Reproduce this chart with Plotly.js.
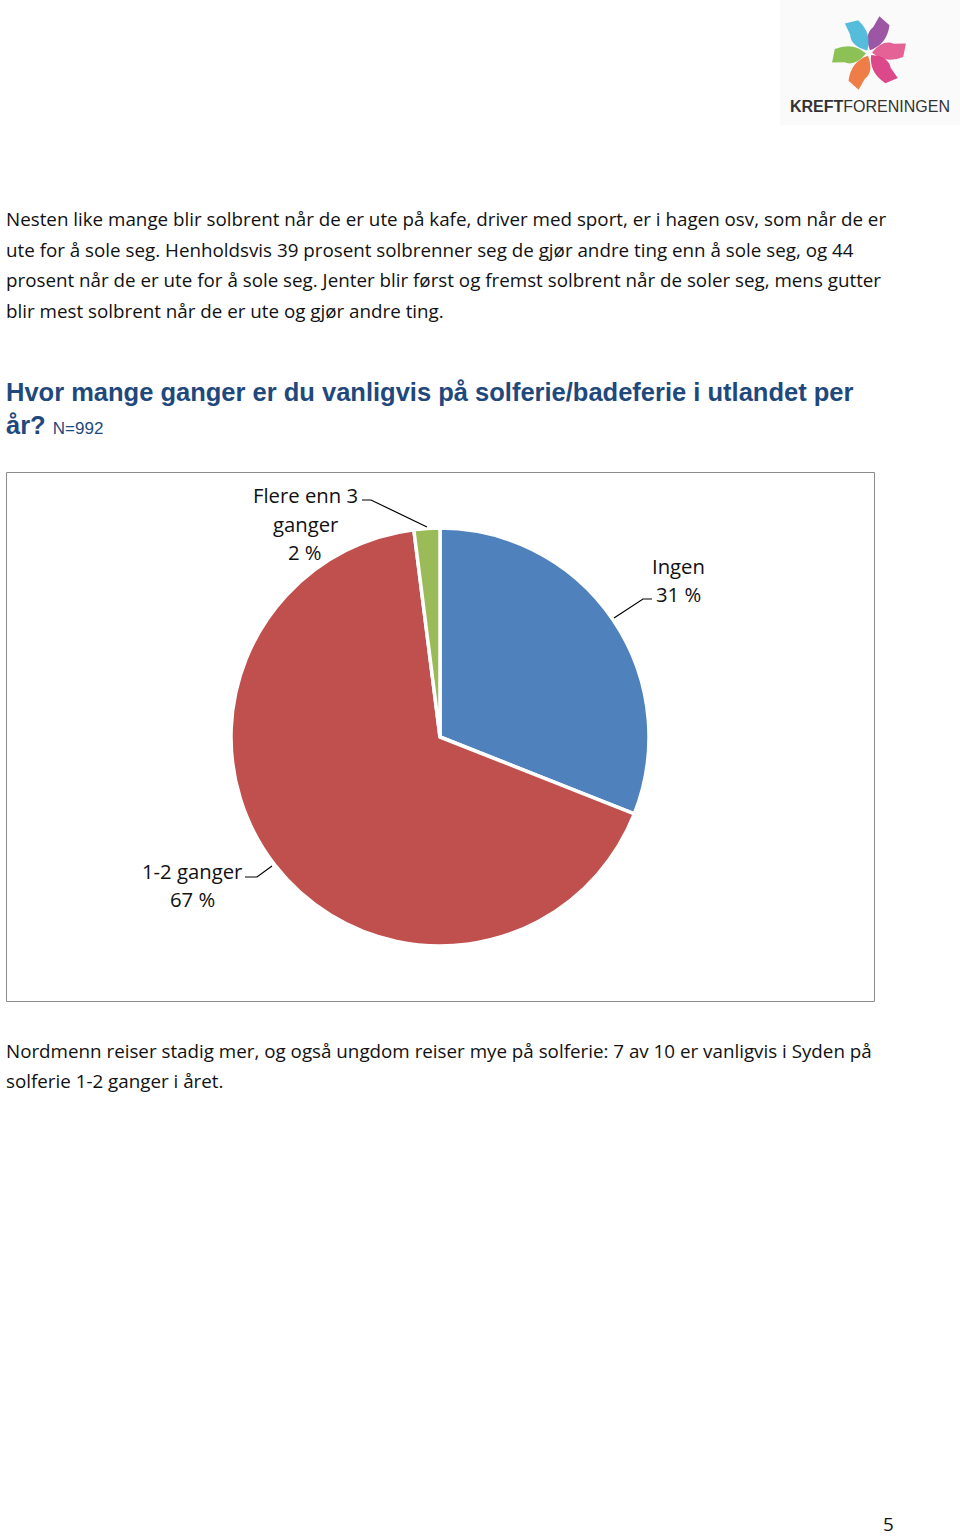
<!DOCTYPE html>
<html>
<head>
<meta charset="utf-8">
<script src="https://cdn.plot.ly/plotly-3.0.1.min.js"></script>
<style>html,body{margin:0;padding:0;background:#fff;}#chart{width:960px;height:1536px;}</style>
</head>
<body>
<div id="chart"></div>
<script>
// ---- data ----
var categories = ["Ingen", "1-2 ganger", "Flere enn 3 ganger"];
var values = [31, 67, 2];
var valueLabels = ["31 %", "67 %", "2 %"];
var colors = ["#4F81BD", "#C0504D", "#9BBB59"];

var introLines = [
  "Nesten like mange blir solbrent når de er ute på kafe, driver med sport, er i hagen osv, som når de er",
  "ute for å sole seg. Henholdsvis 39 prosent solbrenner seg de gjør andre ting enn å sole seg, og 44",
  "prosent når de er ute for å sole seg. Jenter blir først og fremst solbrent når de soler seg, mens gutter",
  "blir mest solbrent når de er ute og gjør andre ting."
];
var titleLines = ["Hvor mange ganger er du vanligvis på solferie/badeferie i utlandet per", "år?"];
var nLabel = "N=992";
var outroLines = [
  "Nordmenn reiser stadig mer, og også ungdom reiser mye på solferie: 7 av 10 er vanligvis i Syden på",
  "solferie 1-2 ganger i året."
];
var pageNumber = "5";
var logoText = ["KREFT", "FORENINGEN"];

// ---- layout helpers ----
var bodyFont = {family: "'Open Sans', Lato, sans-serif", size: 18.8, color: "#111"};
var annotations = [];
function txt(x, y, t, font, xa) {
  annotations.push({x: x, y: y, xref: "x", yref: "y", text: t, showarrow: false,
    xanchor: xa || "left", yanchor: "middle", font: font});
}
introLines.forEach(function (l, i) { txt(4, 219 + i * 30.5, l, bodyFont); });
outroLines.forEach(function (l, i) { txt(4, 1051 + i * 30, l, bodyFont); });
var titleFont = {family: "'Liberation Sans', Arial, sans-serif", size: 25.5, color: "#1F497D"};
txt(4, 392, "<b>" + titleLines[0] + "</b>", titleFont);
txt(4, 425, "<b>" + titleLines[1] + "</b> <span style='font-size:17px'>" + nLabel + "</span>", titleFont);
txt(888, 1524, pageNumber, bodyFont, "center");

// pie labels
var lblFont = {family: "'Open Sans', Lato, sans-serif", size: 20.3, color: "#111"};
txt(678, 566, categories[0], lblFont, "center");
txt(678, 594, valueLabels[0], lblFont, "center");
txt(192, 871, categories[1], lblFont, "center");
txt(192, 899, valueLabels[1], lblFont, "center");
txt(305, 495, "Flere enn 3", lblFont, "center");
txt(305, 524, "ganger", lblFont, "center");
txt(305, 552, valueLabels[2], lblFont, "center");

// logo text
annotations.push({x: 870, y: 106, xref: "x", yref: "y", showarrow: false, xanchor: "center", yanchor: "middle",
  text: "<b>" + logoText[0] + "</b>" + logoText[1],
  font: {family: "'Liberation Sans', Arial, sans-serif", size: 16, color: "#333"}});

var shapes = [];
// chart frame
shapes.push({type: "rect", xref: "x", yref: "y", x0: 6.5, y0: 472.5, x1: 874.5, y1: 1001.5,
  line: {color: "#8c8c8c", width: 1}, fillcolor: "rgba(0,0,0,0)", layer: "below"});
// leader lines
function path(pts) {
  return {type: "path", xref: "x", yref: "y", line: {color: "#000", width: 1.2},
    path: "M" + pts.map(function (p) { return p[0] + "," + p[1]; }).join(" L")};
}
shapes.push(path([[362, 500], [371, 500], [427, 527]]));
shapes.push(path([[652, 599], [643, 599], [614, 618]]));
shapes.push(path([[245, 877], [257, 877], [272, 866]]));

// logo background and petals
shapes.push({type: "rect", xref: "x", yref: "y", x0: 780, y0: 0, x1: 960, y1: 125,
  line: {width: 0}, fillcolor: "#fafafa", layer: "below"});
var petalColors = ["#8E3F97", "#E04C86", "#D6307A", "#EC6B2D", "#7CB83E", "#3DB4D6"];
var petalAngles = [-70, -10, 45, 110, 170, 235];
var cx = 869, cy = 53;
petalColors.forEach(function (c, i) {
  var a = petalAngles[i] * Math.PI / 180;
  var L = 33, W = 14;
  var ux = Math.cos(a), uy = Math.sin(a), px = -uy, py = ux;
  function P(t, s) { return [(cx + ux * t + px * s).toFixed(1), (cy + uy * t + py * s).toFixed(1)]; }
  var p0 = P(3, 0), p1 = P(14, W), p2 = P(L, W * 0.7), tip = P(L + 5, -W * 0.2), p3 = P(L - 7, -W * 0.35), p4 = P(16, -W * 0.8);
  shapes.push({type: "path", xref: "x", yref: "y", fillcolor: c, opacity: 0.88, line: {width: 0},
    path: "M" + p0 + " Q" + p1 + " " + p2 + " L" + tip + " L" + p3 + " Q" + p4 + " " + p0 + " Z"});
});

var pie = {
  type: "pie", labels: categories, values: values, sort: false, direction: "clockwise", rotation: 0,
  marker: {colors: colors, line: {color: "#fff", width: 3.5}},
  textinfo: "none", hoverinfo: "label+percent", showlegend: false,
  domain: {x: [231 / 960, 649 / 960], y: [(1536 - 946) / 1536, (1536 - 528) / 1536]}
};
var dummy = {type: "scatter", x: [0], y: [0], mode: "markers", marker: {opacity: 0}, showlegend: false, hoverinfo: "skip"};

var layout = {
  width: 960, height: 1536, margin: {l: 0, r: 0, t: 0, b: 0},
  paper_bgcolor: "#fff", plot_bgcolor: "rgba(0,0,0,0)",
  xaxis: {range: [0, 960], visible: false, fixedrange: true},
  yaxis: {range: [1536, 0], visible: false, fixedrange: true},
  annotations: annotations, shapes: shapes, showlegend: false
};
Plotly.newPlot("chart", [dummy, pie], layout, {displayModeBar: false, staticPlot: true});
</script>
</body>
</html>
